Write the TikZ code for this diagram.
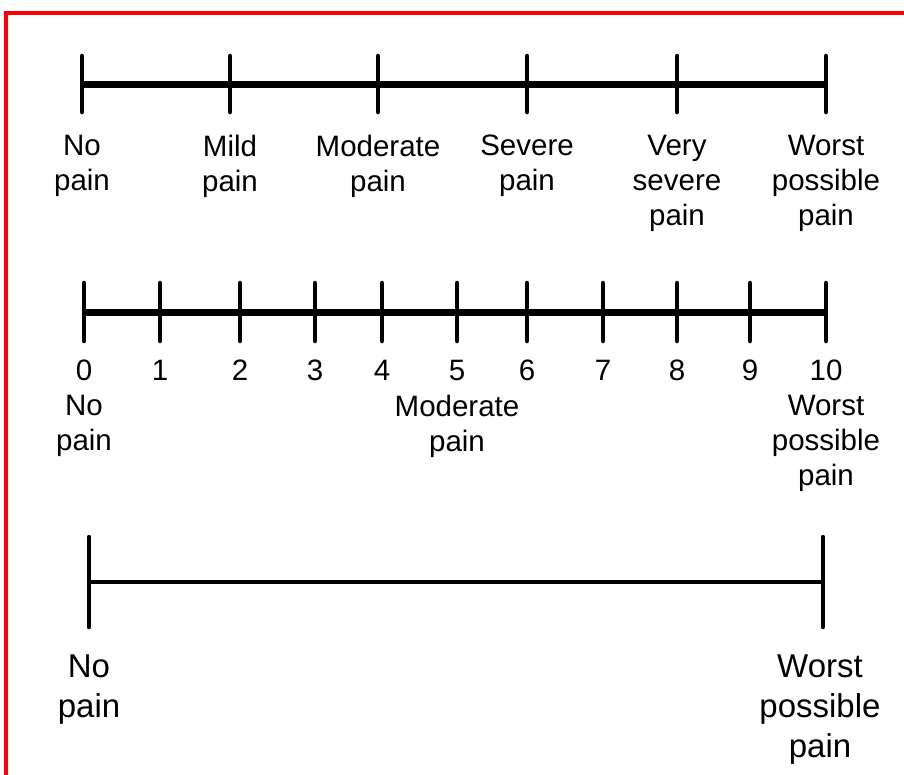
\documentclass[tikz,border=0pt]{standalone}
\usepackage{fontspec}
\setmainfont{Liberation Sans}
\begin{document}
\begin{tikzpicture}[x=1pt,y=-1pt,
  mainline/.style={line width=7pt},
  thinline/.style={line width=4.5pt},
  tickmark/.style={line width=4.5pt, line cap=round},
  lbl/.style={anchor=north, inner sep=0pt, align=center, font=\fontsize{29.5}{35}\selectfont, execute at begin node=\strut},
  lblbig/.style={anchor=north, inner sep=0pt, align=center, font=\fontsize{33}{40}\selectfont, execute at begin node=\strut}]
\useasboundingbox (0,0) rectangle (904,774);
% red frame
\coordinate (fb) at (6,790);
\coordinate (fc) at (6,13);
\coordinate (fr) at (920,13);
\draw[red, line width=3.5pt] (fb) -- (fc) -- (fr);

% ---- scale 1: verbal ----
\foreach \x/\n in {82/a,230/b,378/c,527/d,677/e,826/f}{
  \coordinate (s1\n) at (\x,84);
}
\draw[mainline] (s1a) -- (s1f);
\foreach \n in {a,b,c,d,e,f}{
  \draw[tickmark] ([yshift=28pt]s1\n) -- ([yshift=-28pt]s1\n);
}
\node[lbl] (v1) at (82,134.5) {No\\pain};
\node[lbl] (v2) at (230,134.5) {Mild\\pain};
\node[lbl] (v3) at (378,134.5) {Moderate\\pain};
\node[lbl] (v4) at (527,134.5) {Severe\\pain};
\node[lbl] (v5) at (677,134.5) {Very\\severe\\pain};
\node[lbl] (v6) at (826,134.5) {Worst\\possible\\pain};

% ---- scale 2: numeric ----
\foreach \x/\n in {84/0,160/1,240/2,315/3,382/4,457/5,527/6,603/7,677/8,750/9,826/10}{
  \coordinate (s2t\n) at (\x,312);
  \node[lbl] (num\n) at (\x,355.5) {\n};
}
\draw[mainline] (s2t0) -- (s2t10);
\foreach \n in {0,...,10}{
  \draw[tickmark] ([yshift=29pt]s2t\n) -- ([yshift=-29pt]s2t\n);
}
\node[lbl] (n1) at (84,394.5) {No\\pain};
\node[lbl] (n2) at (457,394.5) {Moderate\\pain};
\node[lbl] (n3) at (826,394.5) {Worst\\possible\\pain};

% ---- scale 3: visual analogue ----
\coordinate (s3a) at (89,582);
\coordinate (s3b) at (823,582);
\draw[thinline] (s3a) -- (s3b);
\draw[tickmark] ([yshift=45pt]s3a) -- ([yshift=-45pt]s3a);
\draw[tickmark] ([yshift=45pt]s3b) -- ([yshift=-45pt]s3b);
\node[lblbig] (a1) at (89,655) {No\\pain};
\node[lblbig] (a2) at (820,655) {Worst\\possible\\pain};
\end{tikzpicture}
\end{document}
